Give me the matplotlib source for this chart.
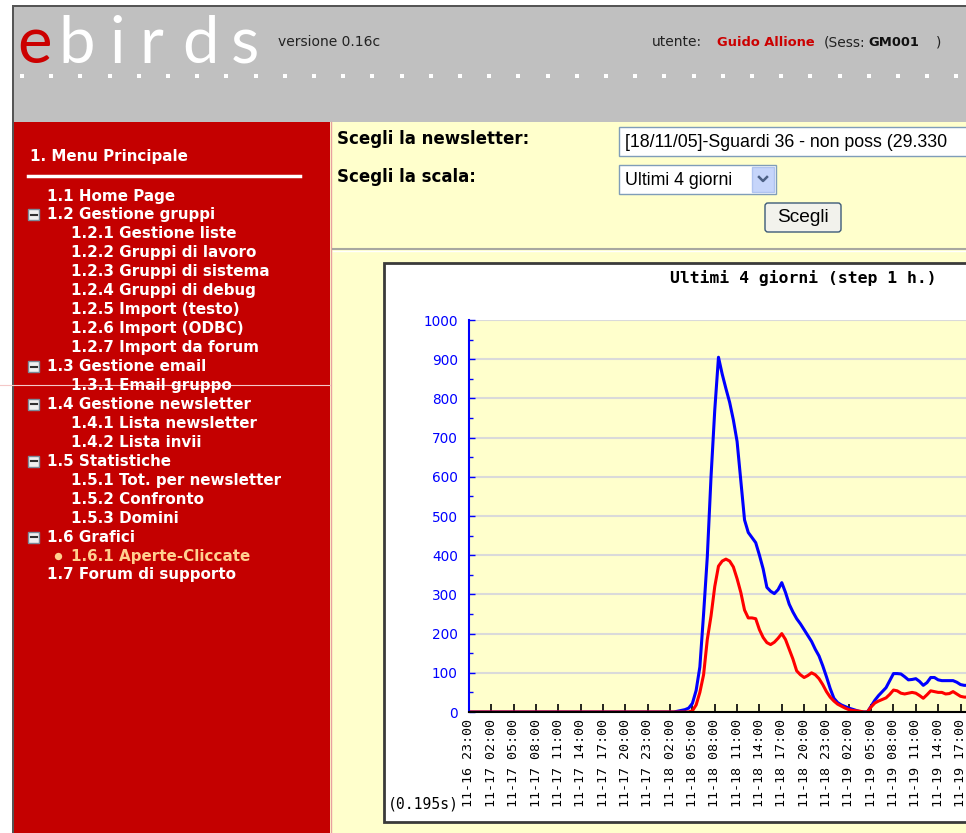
import numpy as np
import pandas as pd
import matplotlib
matplotlib.use("Agg")
import matplotlib.pyplot as plt
import matplotlib.dates as mdates
from matplotlib.patches import Rectangle, FancyBboxPatch

# half-hour samples starting 2005-11-16 23:00
start = "2005-11-16 23:00"
aperte = [0] * 56 + [
    2, 4, 6, 10, 22, 55, 115, 250, 396, 600, 770, 905, 862, 825, 790, 745,
    690, 590, 490, 458, 445, 432, 400, 365, 318, 308, 302, 312, 330, 305,
    275, 255, 238, 225, 210, 195, 180, 160, 143, 118, 90, 60, 35, 24, 18,
    14, 10, 7, 4, 1, 0, 0, 15, 30, 42, 52, 62, 80, 98, 98, 97, 90, 82, 83,
    85, 78, 68, 75, 88, 88, 82, 80, 80, 80, 80, 76, 70, 68, 68, 68]
cliccate = [0] * 60 + [
    3, 18, 50, 95, 185, 245, 320, 372, 385, 390, 385, 370, 340, 305, 260,
    240, 240, 238, 210, 190, 177, 172, 178, 188, 200, 185, 160, 135, 105,
    95, 88, 93, 100, 95, 85, 70, 52, 38, 28, 20, 15, 10, 6, 4, 3, 2, 0, 0,
    13, 23, 28, 32, 36, 45, 56, 54, 48, 46, 48, 50, 48, 42, 35, 44, 54, 52,
    50, 50, 46, 47, 52, 46, 40, 38, 38, 38]
times = pd.date_range(start, periods=len(aperte), freq="30min")

menu_labels = ["1.1 Home Page", "1.2 Gestione gruppi", "1.2.1 Gestione liste",
               "1.2.2 Gruppi di lavoro", "1.2.3 Gruppi di sistema",
               "1.2.4 Gruppi di debug", "1.2.5 Import (testo)",
               "1.2.6 Import (ODBC)", "1.2.7 Import da forum",
               "1.3 Gestione email", "1.3.1 Email gruppo",
               "1.4 Gestione newsletter", "1.4.1 Lista newsletter",
               "1.4.2 Lista invii", "1.5 Statistiche",
               "1.5.1 Tot. per newsletter", "1.5.2 Confronto", "1.5.3 Domini",
               "1.6 Grafici", "1.6.1 Aperte-Cliccate", "1.7 Forum di supporto"]
menu_levels = [1, 1, 2, 2, 2, 2, 2, 2, 2, 1, 2, 1, 2, 2, 1, 2, 2, 2, 1, 2, 1]
menu_active = "1.6.1 Aperte-Cliccate"

W, H = 966, 833
fig = plt.figure(figsize=(W / 100, H / 100), dpi=100)
fig.patch.set_facecolor("white")

# page background, drawn in pixel coordinates
bg = fig.add_axes([0, 0, 1, 1])
bg.set_xlim(0, W)
bg.set_ylim(H, 0)
bg.axis("off")

RED = "#C40000"
YEL = "#FFFFCC"
bg.add_patch(Rectangle((12, 5), W, H, fc="#555555", ec="none"))
bg.add_patch(Rectangle((14, 7), W, 116, fc="#C0C0C0", ec="none"))
bg.add_patch(Rectangle((14, 122), 316, H, fc=RED, ec="none"))
bg.add_patch(Rectangle((330, 122), W, H, fc=YEL, ec="none"))
bg.plot([330.5, 330.5], [122, H], color="#E8A0A0", lw=1)

# header logo, one glyph at a time (wide tracking)
logo = dict(fontsize=47, family="Lato", va="baseline")
bg.text(17, 63, "e", color="#CC0000", **logo)
for ch, x in zip("birds", [58, 109, 139, 182, 231]):
    bg.text(x, 63, ch, color="white", **logo)
dots_x = np.arange(22, 960, 29.2)
bg.scatter(dots_x, np.full(len(dots_x), 76), marker="s", s=5, color="white",
           lw=0)
hdr = dict(fontsize=10, family="DejaVu Sans", va="center")
bold = dict(fontsize=9.4, family="DejaVu Sans", va="center", fontweight="bold")
bg.text(278, 42, "versione 0.16c", color="#222222", **hdr)
bg.text(652, 42, "utente:", color="#222222", **hdr)
bg.text(717, 42, "Guido Allione", color="#CC0000", **bold)
bg.text(824, 42, "(Sess:", color="#222222", **hdr)
bg.text(868, 42, "GM001", color="#111111", **bold)
bg.text(936, 42, ")", color="#222222", **hdr)

# left menu
mfont = dict(fontsize=10.9, family="DejaVu Sans", fontweight="bold",
             va="center")
bg.text(30, 156, "1. Menu Principale", color="white", **mfont)
bg.plot([28, 300], [176, 176], color="white", lw=2.5)
for i, (lab, lev) in enumerate(zip(menu_labels, menu_levels)):
    y = 196 + 18.95 * i
    x = 47 if lev == 1 else 71
    col = "#FFD090" if lab == menu_active else "white"
    bg.text(x, y, lab, color=col, **mfont)
    if lev == 1 and i + 1 < len(menu_levels) and menu_levels[i + 1] == 2:
        bg.add_patch(Rectangle((28, y - 5.5), 11, 11, fc="#F0F0F0",
                               ec="#7A8A99", lw=1))
        bg.plot([30.5, 36.5], [y, y], color="#303030", lw=1.5)
    if lab == menu_active:
        bg.scatter([58], [y], s=28, color="#FFD090", lw=0)
bg.plot([0, 330], [385, 385], color="#F4C8C8", lw=0.8)

# form controls
ffont = dict(fontsize=12, family="DejaVu Sans", fontweight="bold",
             va="center", color="black")
bg.text(337, 139, "Scegli la newsletter:", **ffont)
bg.text(337, 177, "Scegli la scala:", **ffont)
bg.add_patch(Rectangle((619, 127), 400, 29, fc="white", ec="#7F9DB9", lw=1))
bg.text(625, 142, "[18/11/05]-Sguardi 36 - non poss (29.330", fontsize=12.8,
        family="Liberation Sans", va="center", color="black")
bg.add_patch(Rectangle((619, 165), 157, 29, fc="white", ec="#7F9DB9", lw=1))
bg.text(625, 180, "Ultimi 4 giorni", fontsize=12.8, family="Liberation Sans",
        va="center", color="black")
bg.add_patch(Rectangle((752, 167), 22, 25, fc="#C6D5FA", ec="#B0C4F0", lw=1))
bg.plot([759, 763, 767], [177, 181, 177], color="#4D6185", lw=1.8)
bg.add_patch(FancyBboxPatch((765, 203), 76, 29,
                            boxstyle="round,pad=0,rounding_size=3",
                            fc="#F2F2EC", ec="#3C5A78", lw=1))
bg.text(803, 217.5, "Scegli", fontsize=13.8, family="Liberation Sans",
        ha="center", va="center", color="black")
bg.plot([333, W], [249, 249], color="#A8A8A0", lw=1.5)
bg.plot([333, W], [251, 251], color="white", lw=1)

# chart frame
bg.add_patch(Rectangle((384, 263), 700, 559, fc="white", ec="#3A3A3A",
                       lw=2))
bg.text(803, 278, "Ultimi 4 giorni (step 1 h.)", fontsize=11.8,
        family="DejaVu Sans Mono", fontweight="bold", ha="center",
        va="center", color="black")
bg.text(388, 804, "(0.195s)", fontsize=10.6, family="DejaVu Sans Mono",
        va="center", color="black")

# chart axes: 1000 at y=320 px, 0 at y=712 px, 11-16 23:00 at x=469 px
px_per_h = 7.447
hours = (times[-1] - times[0]) / pd.Timedelta(hours=1)
ax = fig.add_axes([469 / W, (H - 712) / H, hours * px_per_h / W, 392 / H])
ax.set_facecolor(YEL)
ax.plot(times, aperte, color="#0000FF", lw=2.2)
ax.plot(times, cliccate, color="#FF0000", lw=2.2)
ax.set_xlim(times[0], times[-1])
ax.set_ylim(0, 1000)
ax.set_yticks(np.arange(0, 1001, 100))
ax.set_yticks(np.arange(50, 1000, 100), minor=True)
ax.yaxis.grid(True, color="#DADADA", lw=1.5)
ax.set_axisbelow(True)
ax.xaxis.set_major_locator(mdates.HourLocator(byhour=[2, 5, 8, 11, 14, 17, 20, 23]))
ax.xaxis.set_major_formatter(mdates.DateFormatter("%m-%d %H:%M"))
ax.tick_params(axis="x", direction="in", length=5.5, width=1.2,
               color="black", pad=5, labelsize=9.6, labelrotation=90)
for t in ax.get_xticklabels():
    t.set_family("DejaVu Sans Mono")
ax.tick_params(axis="y", which="both", direction="in", color="#0000FF",
               width=1, labelcolor="#0000FF", labelsize=9.8, pad=8)
ax.tick_params(axis="y", which="major", length=4)
ax.tick_params(axis="y", which="minor", length=3)
for s in ["top", "right"]:
    ax.spines[s].set_visible(False)
ax.spines["left"].set_color("#0000FF")
ax.spines["left"].set_linewidth(1.5)
ax.spines["bottom"].set_color("black")
ax.spines["bottom"].set_linewidth(1.5)

fig.savefig("out.png", dpi=100)
